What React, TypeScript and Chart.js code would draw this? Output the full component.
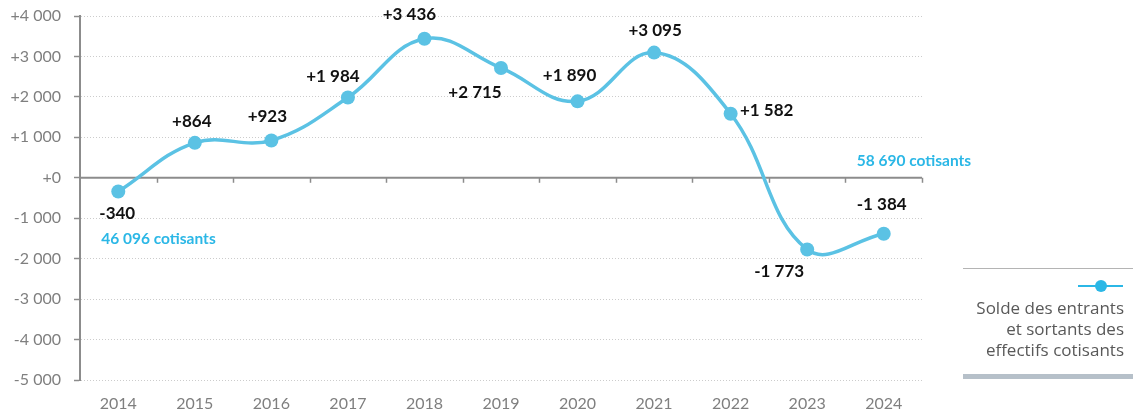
import React, { useEffect, useRef } from "react";
import { Chart, registerables } from "chart.js";

Chart.register(...registerables);

const years = ["2014", "2015", "2016", "2017", "2018", "2019", "2020", "2021", "2022", "2023", "2024"];
const solde = [-340, 864, 923, 1984, 3436, 2715, 1890, 3095, 1582, -1773, -1384];
const yMin = -5000;
const yMax = 4000;
const yStep = 1000;
const cotisantsStart = 46096;
const cotisantsEnd = 58690;
const legendLines = ["Solde des entrants", "et sortants des", "effectifs cotisants"];

// label placement offsets (dx, dy) relative to each point
const labelOffsets: [number, number][] = [
  [-1, 22], [-3, -21], [-4, -24], [-15, -21], [-15, -24], [-26, 25],
  [-8, -26], [1, -22], [36, -3], [-28, 22], [-2, -29],
];

const LINE = "#5bc2e4";
const CYAN = "#2bb7e6";
const AXIS = "#8c8c8c";

const fmt = (v: number, sign = true) => {
  const s = Math.abs(v).toString().replace(/\B(?=(\d{3})+(?!\d))/g, " ");
  if (!sign) return s;
  return (v < 0 ? "-" : "+") + s;
};

const overlayPlugin = {
  id: "overlay",
  beforeDatasetsDraw(chart: any) {
    const { ctx, chartArea, scales } = chart;
    const x = scales.x;
    const y = scales.y;
    const y0 = y.getPixelForValue(0);
    ctx.save();
    ctx.strokeStyle = AXIS;
    ctx.lineWidth = 2;
    ctx.beginPath();
    ctx.moveTo(chartArea.left, y0);
    ctx.lineTo(chartArea.right, y0);
    ctx.stroke();
    ctx.lineWidth = 1.5;
    for (let i = 1; i <= years.length; i++) {
      const px = Math.round(x.getPixelForValue(i - 0.5)) + 0.5;
      ctx.beginPath();
      ctx.moveTo(px, y0);
      ctx.lineTo(px, y0 + 5);
      ctx.stroke();
    }
    ctx.restore();
  },
  afterDatasetsDraw(chart: any) {
    const { ctx } = chart;
    const meta = chart.getDatasetMeta(0);
    ctx.save();
    ctx.textAlign = "center";
    ctx.textBaseline = "middle";
    ctx.fillStyle = "#111";
    ctx.font = "bold 17px Lato";
    meta.data.forEach((pt: any, i: number) => {
      const [dx, dy] = labelOffsets[i];
      ctx.fillText(fmt(solde[i]), pt.x + dx, pt.y + dy);
    });
    ctx.fillStyle = CYAN;
    ctx.font = "bold 15.5px Lato";
    const first = meta.data[0];
    ctx.textAlign = "left";
    ctx.fillText(fmt(cotisantsStart, false) + " cotisants", first.x - 17, first.y + 47);
    const last = meta.data[meta.data.length - 1];
    ctx.fillText(fmt(cotisantsEnd, false) + " cotisants", last.x - 27, chart.scales.y.getPixelForValue(0) - 17);
    ctx.restore();
  },
};

export default function App() {
  const ref = useRef<HTMLCanvasElement>(null);
  useEffect(() => {
    if (!ref.current) return;
    const chart = new Chart(ref.current, {
      type: "line",
      data: {
        labels: years,
        datasets: [
          {
            data: solde,
            borderColor: LINE,
            backgroundColor: LINE,
            borderWidth: 3.5,
            tension: 0.4,
            pointRadius: 7,
            pointBackgroundColor: LINE,
            pointBorderWidth: 0,
            fill: false,
          },
        ],
      },
      options: {
        animation: false,
        responsive: true,
        maintainAspectRatio: false,
        layout: { padding: { top: 16, right: 211, left: 0, bottom: 0 } },
        plugins: { legend: { display: false }, tooltip: { enabled: false } },
        scales: {
          x: {
            offset: true,
            grid: { display: false, drawTicks: false },
            border: { display: false },
            ticks: { color: "#7f7f7f", font: { family: "Lato", size: 16 }, padding: 14 },
            afterFit: (s: any) => {
              s.height = 34;
              s.paddingLeft = 0;
              s.paddingRight = 0;
            },
          },
          y: {
            min: yMin,
            max: yMax,
            grid: {
              color: "#cccccc",
              tickColor: AXIS,
              tickLength: 6,
              tickWidth: 1.5,
            },
            border: { display: true, color: AXIS, width: 2, dash: [1, 2] },
            ticks: {
              stepSize: yStep,
              color: "#7f7f7f",
              font: { family: "Lato", size: 16 },
              padding: 13,
              callback: (v: any) => fmt(Number(v)),
            },
            afterFit: (s: any) => {
              s.width = 80;
              s.paddingTop = 0;
              s.paddingBottom = 0;
            },
          },
        },
      },
      plugins: [overlayPlugin],
    });
    return () => chart.destroy();
  }, []);

  return (
    <div style={{ position: "absolute", left: 0, top: 0, width: 1133, height: 414, background: "#fff" }}>
      <canvas ref={ref} />
      <div style={{ position: "absolute", left: 963, top: 268, width: 170, borderTop: "1px solid #b4b4b4" }} />
      <div style={{ position: "absolute", left: 963, top: 374, width: 170, height: 5, background: "#b6c0c9" }} />
      <div style={{ position: "absolute", left: 1078, top: 285, width: 45, height: 2, background: CYAN }} />
      <div style={{ position: "absolute", left: 1095, top: 280, width: 12, height: 12, borderRadius: 6, background: CYAN }} />
      <div
        style={{
          position: "absolute",
          right: 9,
          top: 297,
          textAlign: "right",
          fontFamily: "'Open Sans', sans-serif",
          fontSize: 17,
          lineHeight: "21px",
          color: "#595959",
          whiteSpace: "nowrap",
        }}
      >
        {legendLines.map((l) => (
          <div key={l}>{l}</div>
        ))}
      </div>
    </div>
  );
}
